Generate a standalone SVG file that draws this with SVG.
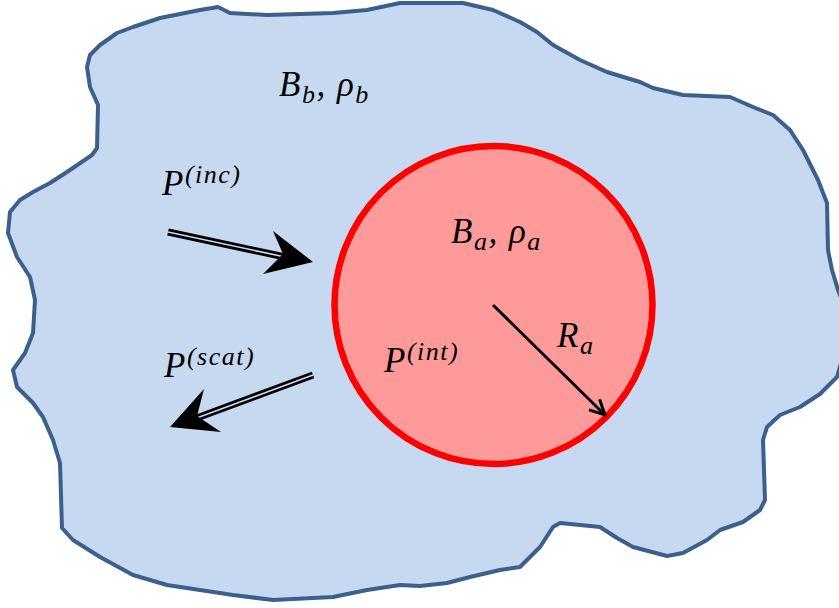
<svg xmlns="http://www.w3.org/2000/svg" width="839" height="608" viewBox="0 0 839 608">
<defs>
<style>
.lbl{font-family:"Liberation Serif","Times New Roman",serif;font-style:italic;fill:#000;letter-spacing:1.5px}
.big{font-size:35px}
.sm{font-size:26px}
.shaft{stroke:#000;stroke-width:7;fill:none}
.gap{stroke:#c6d9f0;stroke-width:1.6;fill:none}
</style>
<marker id="ah" viewBox="0 0 12 12" refX="11" refY="6" markerWidth="6" markerHeight="6" orient="auto" markerUnits="strokeWidth">
<path d="M1,1 L11,6 L1,11" fill="none" stroke="#000" stroke-width="2"/>
</marker>
</defs>
<rect width="839" height="608" fill="#fff"/>
<g id="medium-b">
<path d="M218,7 L230,13 L267,15 L333,13 L367,10 L400,3 L463,3 L493,10 L520,22 L537,32 L553,45 L580,60 L607,72 L640,82 L653,88 L683,95 L730,97 L753,107 L773,115 L790,130 L803,150 L818,180 L827,203 L828,250 L832,270 L838,290 L842,300 L842,360 L837,377 L820,394 L800,407 L780,415 L767,427 L763,440 L765,500 L760,510 L743,522 L720,530 L707,540 L683,553 L667,556 L633,547 L617,538 L600,527 L560,523 L553,527 L540,547 L520,567 L500,570 L470,577 L447,583 L420,586 L400,585 L367,590 L333,597 L273,600 L233,595 L200,590 L167,585 L133,575 L100,557 L73,540 L62,528 L60,463 L53,440 L43,417 L33,403 L17,387 L13,370 L25,353 L33,333 L35,300 L30,277 L17,257 L8,233 L10,212 L20,200 L33,192 L50,183 L67,172 L92,155 L97,148 L98,105 L90,87 L87,67 L90,55 L100,45 L117,33 L133,27 L160,18 L200,10 Z" fill="#c6d9f0" stroke="#3c5f8d" stroke-width="4" stroke-linejoin="round"/>
<text class="lbl big" x="279" y="96">B<tspan class="sm" dy="7">b</tspan><tspan dy="-7">, ρ</tspan><tspan class="sm" dy="7">b</tspan></text>
</g>
<g id="sphere-a">
<circle cx="493.5" cy="305" r="159" fill="#fe9a9a" stroke="#ff0000" stroke-width="6.5"/>
<text class="lbl big" x="451" y="243">B<tspan class="sm" dy="7">a</tspan><tspan dy="-7">, ρ</tspan><tspan class="sm" dy="7">a</tspan></text>
<text class="lbl big" x="384" y="372">P<tspan class="sm" dy="-12">(int)</tspan></text>
<text class="lbl big" x="557" y="347">R<tspan class="sm" dy="7">a</tspan></text>
</g>
<g id="label-inc">
<text class="lbl big" x="162" y="195">P<tspan class="sm" dy="-12">(inc)</tspan></text>
</g>
<g id="label-scat">
<text class="lbl big" x="164" y="377">P<tspan class="sm" dy="-12">(scat)</tspan></text>
</g>
<g id="connectors">
<line class="shaft" x1="168" y1="232" x2="285" y2="257"/>
<line class="gap" x1="168" y1="232" x2="285" y2="257"/>
<polygon points="313,262 273,231 283,254 263,274" fill="#000"/>
<line class="shaft" x1="313" y1="375" x2="194" y2="419"/>
<line class="gap" x1="313" y1="375" x2="194" y2="419"/>
<polygon points="170,427 204,389 197,416 221,432" fill="#000"/>
<line x1="493" y1="305" x2="605" y2="415" stroke="#000" stroke-width="3" marker-end="url(#ah)"/>
</g>
</svg>
